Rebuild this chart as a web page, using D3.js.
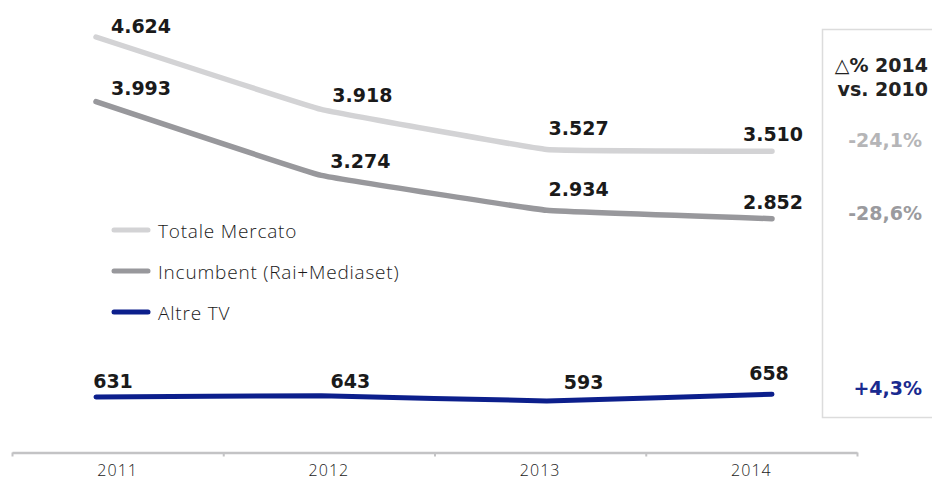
<!DOCTYPE html>
<html>
<head>
<meta charset="utf-8">
<script src="https://cdn.jsdelivr.net/npm/d3@7"></script>
<style>
  body { margin: 0; background: #fff; }
  svg { display: block; }
  .val { font-family: "DejaVu Sans", sans-serif; font-weight: bold; font-size: 19px; fill: #1a1a1a; }
  .leg { font-family: "Open Sans", sans-serif; font-weight: 300; font-size: 19px; letter-spacing: 0.8px; fill: #1a1a1a; }
  .tick text { font-family: "Open Sans", sans-serif; font-weight: 300; font-size: 16px; letter-spacing: 1px; fill: #1a1a1a; }
  .delta { font-family: "DejaVu Sans", sans-serif; font-weight: bold; font-size: 19px; }
</style>
</head>
<body>
<div id="graph"></div>
<script>
// data
var years = ["2011", "2012", "2013", "2014"];
var totale = [4624, 3918, 3527, 3510];
var incumbent = [3993, 3274, 2934, 2852];
var altre = [631, 643, 593, 658];
var seriesNames = ["Totale Mercato", "Incumbent (Rai+Mediaset)", "Altre TV"];
var deltaTitle = ["\u25B3% 2014", "vs. 2010"];
var deltaLabels = ["-24,1%", "-28,6%", "+4,3%"];

var width = 932, height = 481;
var colors = ["#d3d3d5", "#98989c", "#0c1f8c"];
var deltaColors = ["#b5b5b7", "#9a9a9e", "#1a2a8f"];

var fmt = d3.formatLocale({decimal: ",", thousands: ".", grouping: [3], currency: ["", ""]}).format(",d");

var svg = d3.select("#graph").append("svg")
    .attr("width", width)
    .attr("height", height);

// x: lines sit on points, axis labels on bands
var xPoint = d3.scalePoint().domain(years).range([96, 772]);
var xBand = d3.scaleBand().domain(years).range([12, 857]);
var xTicks = d3.scaleLinear().domain([0, years.length]).range([12, 857]);

// two y scales, same slope, the small series has its own baseline
var yMain = d3.scaleLinear().domain([2800, 4700]).range([224, 29.2]);
var yAltre = d3.scaleLinear().domain([550, 700]).range([405.3, 389.9]);

var line = function(y) {
    return d3.line()
        .x(function(d, i) { return xPoint(years[i]); })
        .y(function(d) { return y(d); })
        .curve(d3.curveCardinal.tension(0.8));
};

var series = [
    {values: totale, y: yMain, w: 5.5},
    {values: incumbent, y: yMain, w: 5.5},
    {values: altre, y: yAltre, w: 5}
];

// label offsets from the point (dx to text centre, dy to baseline)
var labelShift = [
    [[45, -4], [41, -7], [32, -14], [1, -10]],
    [[45, -7], [39, -7], [32, -14], [1, -10]],
    [[17, -9], [29, -8], [37, -12], [-3, -14]]
];

series.forEach(function(s, k) {
    svg.append("path")
        .datum(s.values)
        .attr("fill", "none")
        .attr("stroke", colors[k])
        .attr("stroke-width", s.w)
        .attr("stroke-linecap", "round")
        .attr("stroke-linejoin", "round")
        .attr("d", line(s.y));

    svg.selectAll(null)
        .data(s.values)
        .enter().append("text")
        .attr("class", "val")
        .attr("text-anchor", "middle")
        .attr("x", function(d, i) { return xPoint(years[i]) + labelShift[k][i][0]; })
        .attr("y", function(d, i) { return s.y(d) + labelShift[k][i][1]; })
        .text(function(d) { return fmt(d); });
});

// legend
var legend = svg.append("g").attr("transform", "translate(114,230)");
seriesNames.forEach(function(name, k) {
    var g = legend.append("g").attr("transform", "translate(0," + (k * 41) + ")");
    g.append("line")
        .attr("x1", 0).attr("x2", 34)
        .attr("stroke", colors[k])
        .attr("stroke-width", 5)
        .attr("stroke-linecap", "round");
    g.append("text")
        .attr("class", "leg")
        .attr("x", 44)
        .attr("y", 8)
        .text(name);
});

// x axis
var axisY = 452.5;
var ax = svg.append("g")
    .attr("transform", "translate(0," + axisY + ")")
    .call(d3.axisBottom(xBand).tickSize(0).tickPadding(12));
ax.select(".domain").remove();

svg.append("g")
    .attr("transform", "translate(0," + axisY + ")")
    .call(d3.axisBottom(xTicks).ticks(years.length).tickSize(4).tickSizeOuter(0).tickFormat(""))
    .call(function(g) {
        g.select(".domain").attr("stroke", "#c3c3c5").attr("stroke-width", 2.5);
        g.selectAll(".tick line").attr("stroke", "#c3c3c5").attr("stroke-width", 2);
    });

// delta panel
svg.append("rect")
    .attr("x", 822.5).attr("y", 29.5)
    .attr("width", 130).attr("height", 388)
    .attr("fill", "none")
    .attr("stroke", "#dcdcdc")
    .attr("stroke-width", 1.5);

svg.selectAll(null)
    .data(deltaTitle)
    .enter().append("text")
    .attr("class", "delta")
    .attr("text-anchor", "end")
    .attr("x", 928)
    .attr("y", function(d, i) { return 72 + i * 24; })
    .attr("fill", "#222")
    .text(function(d) { return d; });

var deltaY = [147, 220, 395];
svg.selectAll(null)
    .data(deltaLabels)
    .enter().append("text")
    .attr("class", "delta")
    .attr("text-anchor", "end")
    .attr("x", 922)
    .attr("y", function(d, i) { return deltaY[i]; })
    .attr("fill", function(d, i) { return deltaColors[i]; })
    .text(function(d) { return d; });
</script>
</body>
</html>
